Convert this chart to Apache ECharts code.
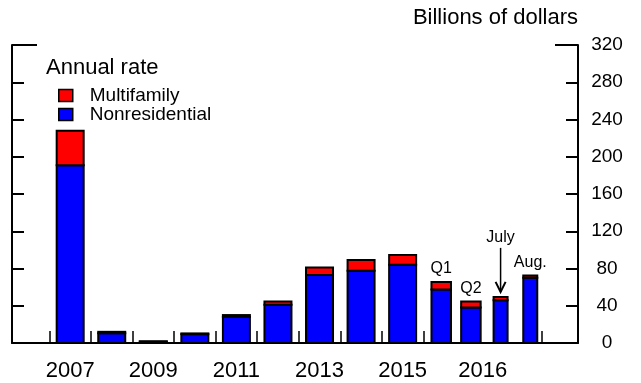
<!DOCTYPE html>
<html><head><meta charset="utf-8">
<script src="https://cdn.jsdelivr.net/npm/echarts@6/dist/echarts.min.js"></script>
<style>html,body{margin:0;padding:0;background:#fff}#c{width:641px;height:383px}</style>
</head><body><div id="c"></div>
<script>
// ---- data ----
const years = ['2007','2008','2009','2010','2011','2012','2013','2014','2015'];
const yearNonresidential = [191, 10.5, 1.5, 9.5, 28, 41, 73, 77.5, 84];
const yearMultifamily    = [37, 1.5, 0.3, 0.8, 2, 3.5, 8, 11.5, 10.5];
const periods2016 = ['Q1','Q2','July','Aug.'];
const periodKinds2016 = ['quarter','quarter','month','month'];
const nonresidential2016 = [57.5, 38, 46, 70];
const multifamily2016    = [8, 6.5, 3.5, 2.5];
const xTickLabels = ['2007','2009','2011','2013','2015','2016'];
const yMin = 0, yMax = 320, yStep = 40;

// ---- layout / style ----
const FONT = 'Liberation Sans, Arial, Helvetica, sans-serif';
const BLUE = '#0000FF', RED = '#FF0000';
const LW = 2;
const BAR_PX = { year: 29, quarter: 21.5, month: 16 };
const SUB = 5 / 7;                       // width of a 2016 sub-period slot (in years)
const subStart = years.length - 0.5;     // boundary where the 2016 section starts
const subEnd = subStart + periods2016.length * SUB;

const items = [];
years.forEach((y, i) => items.push({ name: y, kind: 'year', x: i, nonres: yearNonresidential[i], multi: yearMultifamily[i] }));
periods2016.forEach((p, j) => items.push({ name: p, kind: periodKinds2016[j], x: subStart + (j + 0.6) * SUB, nonres: nonresidential2016[j], multi: multifamily2016[j] }));

const tickValues = years.map((_, i) => i - 0.5).concat([subStart, subEnd]);
const labelValues = xTickLabels.map(l => { const i = years.indexOf(l); return i >= 0 ? i : (subStart + subEnd) / 2; });

function renderNonres(params, api) {
  const d = items[params.dataIndex];
  const b = api.coord([d.x, 0]);
  const t = api.coord([d.x, d.nonres]);
  const w = BAR_PX[d.kind] - LW;
  return { type: 'rect', shape: { x: b[0] - w / 2, y: t[1], width: w, height: b[1] - t[1] },
           style: { fill: BLUE, stroke: '#000', lineWidth: LW } };
}
function renderMulti(params, api) {
  const d = items[params.dataIndex];
  const b = api.coord([d.x, d.nonres]);
  const t = api.coord([d.x, d.nonres + d.multi]);
  const w = BAR_PX[d.kind] - LW;
  const children = [{ type: 'rect', shape: { x: b[0] - w / 2, y: t[1], width: w, height: b[1] - t[1] },
                      style: { fill: RED, stroke: '#000', lineWidth: LW } }];
  if (d.kind !== 'year') {
    const x = t[0], y = t[1];
    if (d.name === 'July') {
      children.push({ type: 'line', shape: { x1: x, y1: y - 49, x2: x, y2: y - 5 }, style: { stroke: '#000', lineWidth: 1.5 } });
      children.push({ type: 'polyline', shape: { points: [[x - 5, y - 15], [x, y - 5], [x + 5, y - 15]] }, style: { stroke: '#000', lineWidth: 2, fill: null } });
      children.push({ type: 'text', x: x, y: y - 51, style: { text: d.name, fill: '#000', fontSize: 16, fontFamily: FONT, align: 'center', verticalAlign: 'bottom' } });
    } else {
      children.push({ type: 'text', x: x, y: y - 5, style: { text: d.name, fill: '#000', fontSize: 16, fontFamily: FONT, align: 'center', verticalAlign: 'bottom' } });
    }
  }
  return { type: 'group', children };
}

const axisLineStyle = { color: '#000', width: 2 };
const yBase = { type: 'value', min: yMin, max: yMax, interval: yStep, splitLine: { show: false } };

const option = {
  animation: false,
  backgroundColor: '#fff',
  textStyle: { fontFamily: FONT },
  title: [
    { text: 'Annual rate', left: 46, top: 57, padding: 0, textStyle: { fontSize: 22, fontWeight: 'normal', color: '#000', fontFamily: FONT } },
    { text: 'Billions of dollars', right: 63, top: 7, padding: 0, textStyle: { fontSize: 22, fontWeight: 'normal', color: '#000', fontFamily: FONT } }
  ],
  legend: {
    orient: 'vertical', left: 58, top: 86, padding: 0, itemGap: 0,
    itemWidth: 14, itemHeight: 12, icon: 'rect',
    data: [
      { name: 'Multifamily', itemStyle: { color: RED, borderColor: '#000', borderWidth: 1.5 } },
      { name: 'Nonresidential', itemStyle: { color: BLUE, borderColor: '#000', borderWidth: 1.5 } }
    ],
    textStyle: { fontSize: 19, lineHeight: 17, color: '#000', fontFamily: FONT, padding: [0, 0, 0, 12] }
  },
  grid: { left: 12, right: 63, top: 45, bottom: 40 },
  xAxis: {
    type: 'value', min: -1.4, max: 12.22, position: 'bottom',
    axisLine: { show: true, onZero: false, lineStyle: axisLineStyle },
    axisTick: { show: true, inside: true, length: 12, customValues: tickValues, lineStyle: { color: '#000', width: 1.5 } },
    axisLabel: { show: true, customValues: labelValues, margin: 17, fontSize: 22, color: '#000', fontFamily: FONT,
                 formatter: v => { const k = labelValues.findIndex(l => Math.abs(l - v) < 1e-6); return k >= 0 ? xTickLabels[k] : ''; } },
    splitLine: { show: false }
  },
  yAxis: [
    Object.assign({}, yBase, { position: 'right',
      axisLine: { show: true, onZero: false, lineStyle: axisLineStyle },
      axisTick: { show: true, inside: true, length: 12, lineStyle: { color: '#000', width: 2 } },
      axisLabel: { show: true, margin: 29, align: 'center', fontSize: 19, color: '#000', fontFamily: FONT } }),
    Object.assign({}, yBase, { position: 'left',
      axisLine: { show: true, onZero: false, lineStyle: axisLineStyle },
      axisTick: { show: true, inside: true, length: 12, lineStyle: { color: '#000', width: 2 } },
      axisLabel: { show: false } }),
    Object.assign({}, yBase, { position: 'left',
      axisLine: { show: false, onZero: false },
      axisTick: { show: true, inside: true, length: 25, customValues: [yMax], lineStyle: { color: '#000', width: 2 } },
      axisLabel: { show: false } }),
    Object.assign({}, yBase, { position: 'right',
      axisLine: { show: false, onZero: false },
      axisTick: { show: true, inside: true, length: 23, customValues: [yMax], lineStyle: { color: '#000', width: 2 } },
      axisLabel: { show: false } })
  ],
  series: [
    { name: 'Nonresidential', type: 'custom', renderItem: renderNonres, itemStyle: { color: BLUE },
      encode: { x: 0, y: 1 }, data: items.map(d => [d.x, d.nonres]), z: 3 },
    { name: 'Multifamily', type: 'custom', renderItem: renderMulti, itemStyle: { color: RED },
      encode: { x: 0, y: 1 }, data: items.map(d => [d.x, d.nonres + d.multi]), z: 3 }
  ]
};
const chart = echarts.init(document.getElementById('c'), null, { renderer: 'canvas' });
chart.setOption(option);
</script>
</body></html>
